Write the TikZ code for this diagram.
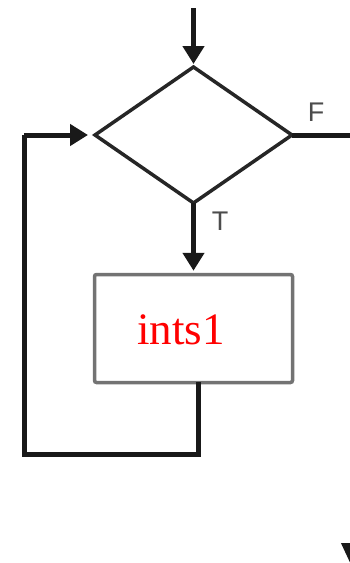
\documentclass[tikz,border=0pt]{standalone}
\usepackage{fontspec}
\setmainfont{Liberation Serif}
\newfontfamily\labfont{Liberation Sans}
\usetikzlibrary{shapes.geometric,arrows.meta}
\begin{document}
\begin{tikzpicture}[x=1pt,y=-1pt,
  flow/.style={line width=5pt,draw=black!90},
  arr/.style={flow,-{Triangle[length=18pt,width=21pt]}},
  decision/.style={diamond,draw=black!85,line width=3.5pt,inner sep=0pt,outer sep=0pt,
     minimum width=197pt,minimum height=136pt},
  procbox/.style={rectangle,draw=black!55,line width=3.5pt,rounded corners=2pt,
     minimum width=198pt,minimum height=108pt,inner sep=0pt},
  lab/.style={font=\labfont\fontsize{27}{27}\selectfont,text=black!70,inner sep=0pt},
  boxtext/.style={font=\fontsize{45}{45}\selectfont,text=red,inner sep=0pt}]
\useasboundingbox (0,0) rectangle (350,563);
\node[decision] (d) at (193.5,135) {};
\node[procbox] (p) at (193.5,328.5) {};
\node[boxtext] (t) at (181,330) {ints1};
\node[lab] (F) at (316,112) {F};
\node[lab] (T) at (220,221) {T};
\coordinate (start) at (193.5,8);
\coordinate (loopa) at (198,454);
\coordinate (loopb) at (24,454);
\coordinate (loopc) at (24,135);
\coordinate (rc) at (352,135);
\coordinate (out) at (352,567);
\coordinate (pb) at (198,382);
\draw[arr,shorten >=3pt] (start) -- (d.north);
\draw[arr,shorten >=2pt] (d.south) -- (p.north);
\draw[flow] (pb) -- (loopa) -- (loopb) -- (loopc);
\draw[arr,shorten >=7pt] (loopc) -- (d.west);
\draw[flow] (d.east) -- (rc);
\draw[line width=4pt,draw=black!90,-{Triangle[length=24pt,width=21pt]}] (rc) -- (out);
\end{tikzpicture}
\end{document}
